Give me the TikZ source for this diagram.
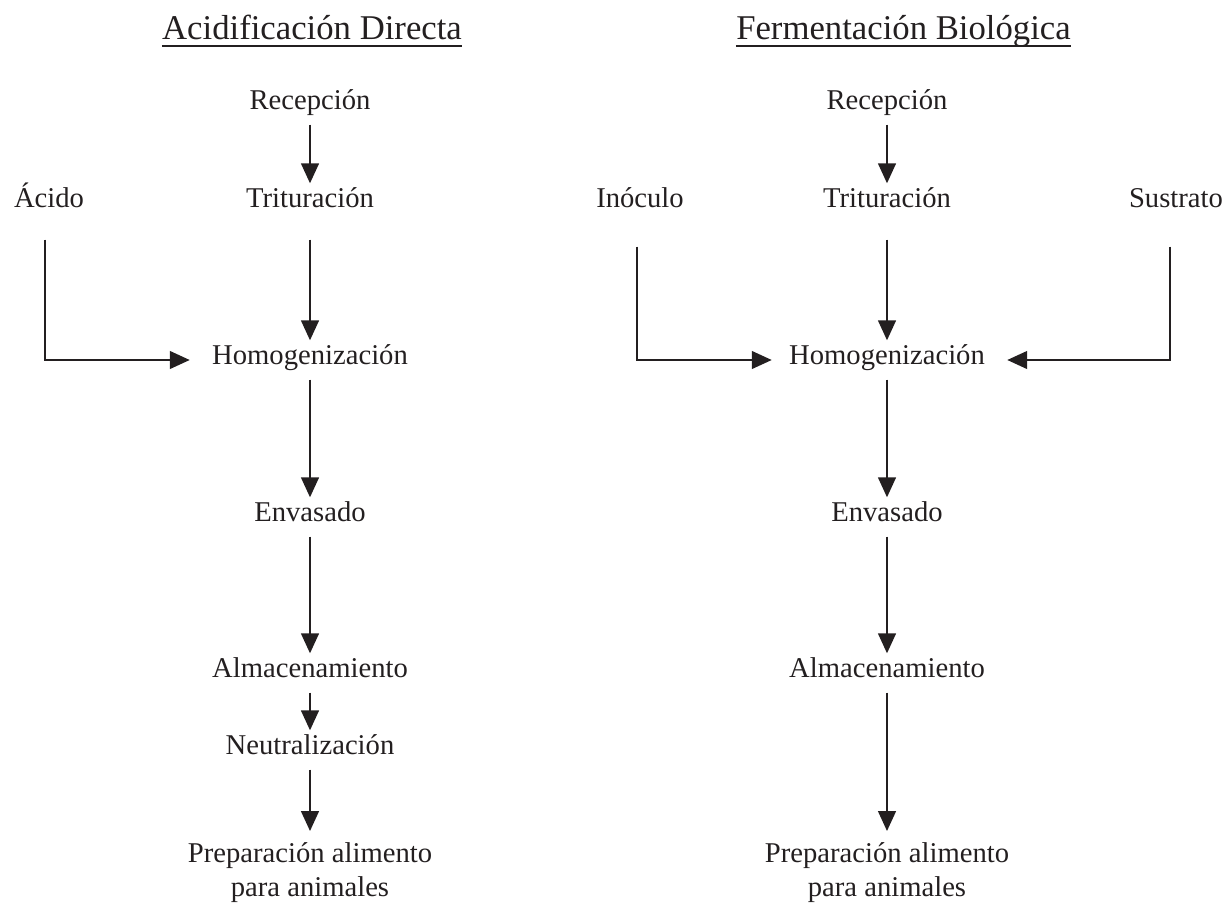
\documentclass[tikz,border=0pt]{standalone}
\usepackage{fontspec}
\setmainfont{Liberation Serif}
\usetikzlibrary{positioning,arrows.meta}
\definecolor{tinta}{RGB}{35,31,32}

\tikzset{
	paso/.style={tinta, inner sep=0.22cm, text height=0.72em, text depth=0.22em, font=\fontsize{16.3}{19.4}\selectfont},
	final/.style={paso, text height={}, text depth={}, align=center},
	titulo/.style={tinta, inner sep=0pt, anchor=base, font=\fontsize{19.75}{22}\selectfont},
	flecha/.style={tinta, line width=1.6pt, -{Triangle[length=0.4cm, width=0.35cm]}},
}

\begin{document}
\begin{tikzpicture}
	\useasboundingbox (0,0) rectangle (24.48,-18.36);
	
	\node[titulo] (titA) at (6.24, -0.8) {Acidificación Directa};
	\node[titulo] (titB) at (18.07, -0.8) {Fermentación Biológica};
	\draw[tinta, line width=1.2pt] ([yshift=-0.12cm]titA.base west) -- ([yshift=-0.12cm]titA.base east);
	\draw[tinta, line width=1.2pt] ([yshift=-0.12cm]titB.base west) -- ([yshift=-0.12cm]titB.base east);
	
	% acidificacion directa
	\node[paso] (recA) at (6.2, -2.1) {Recepción};
	\node[paso] (triA) at (6.2, -4.06) {Trituración};
	\node[paso] (homA) at (6.2, -7.2) {Homogenización};
	\node[paso] (envA) at (6.2, -10.34) {Envasado};
	\node[paso] (almA) at (6.2, -13.46) {Almacenamiento};
	\node[paso] (neuA) at (6.2, -15.0) {Neutralización};
	\node[final] (preA) at (6.2, -17.45) {Preparación alimento\\para animales};
	\node[paso] (acido) at (0.98, -4.06) {Ácido};
	
	\draw[flecha] (recA) -- (triA);
	\draw[flecha, shorten <=0.34cm] (triA) -- (homA);
	\draw[flecha] (homA) -- (envA);
	\draw[flecha] (envA) -- (almA);
	\draw[flecha] (almA) -- (neuA);
	\draw[flecha] (neuA) -- (preA);
	\draw[flecha, shorten <=0.34cm, shorten >=0.22cm] ([xshift=-0.08cm]acido.south) |- (homA.west);
	
	% fermentacion biologica
	\node[paso] (recB) at (17.74, -2.1) {Recepción};
	\node[paso] (triB) at (17.74, -4.06) {Trituración};
	\node[paso] (homB) at (17.74, -7.2) {Homogenización};
	\node[paso] (envB) at (17.74, -10.34) {Envasado};
	\node[paso] (almB) at (17.74, -13.46) {Almacenamiento};
	\node[final] (preB) at (17.74, -17.45) {Preparación alimento\\para animales};
	\node[paso] (inoc) at (12.8, -4.06) {Inóculo};
	\node[paso] (sust) at (23.52, -4.06) {Sustrato};
	
	\draw[flecha] (recB) -- (triB);
	\draw[flecha, shorten <=0.34cm] (triB) -- (homB);
	\draw[flecha] (homB) -- (envB);
	\draw[flecha] (envB) -- (almB);
	\draw[flecha] (almB) -- (preB);
	\draw[flecha, shorten <=0.48cm, shorten >=0.12cm] ([xshift=-0.06cm]inoc.south) |- (homB.west);
	\draw[flecha, shorten <=0.48cm, shorten >=0.22cm] ([xshift=-0.12cm]sust.south) |- (homB.east);
\end{tikzpicture}
\end{document}
